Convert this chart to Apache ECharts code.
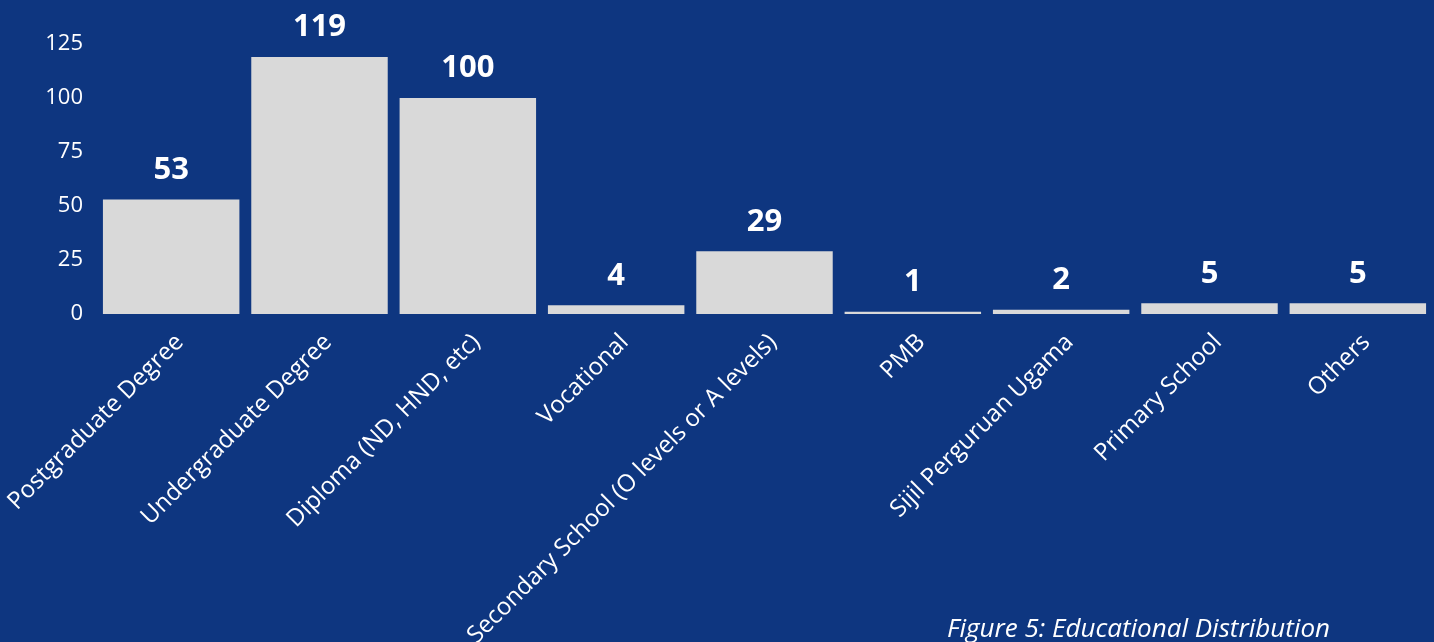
<!DOCTYPE html>
<html><head><meta charset="utf-8">
<script src="https://cdn.jsdelivr.net/npm/echarts@6/dist/echarts.min.js"></script>
<style>html,body{margin:0;padding:0;background:#0e3680;}#c{width:1434px;height:642px;}</style>
</head><body><div id="c"></div>
<script>
const categories = ["Postgraduate Degree","Undergraduate Degree","Diploma (ND, HND, etc)","Vocational","Secondary School (O levels or A levels)","PMB","Sijil Perguruan Ugama","Primary School","Others"];
const values = [53,119,100,4,29,1,2,5,5];
const yTicks = {min:0,max:125,interval:25};
const chart = echarts.init(document.getElementById('c'));
chart.setOption({
  backgroundColor:'#0e3680',
  textStyle:{fontFamily:'Open Sans'},
  title:{text:'Figure 5: Educational Distribution',right:99,bottom:-6,textStyle:{color:'#ffffff',fontStyle:'italic',fontWeight:'normal',fontSize:26,fontFamily:'Open Sans'}},
  grid:{left:97,right:2,top:44,bottom:328,containLabel:false,outerBoundsMode:'none'},
  xAxis:{type:'category',data:categories,axisLine:{show:false},axisTick:{show:false},
    axisLabel:{color:'#ffffff',fontSize:24,rotate:45,interval:0,margin:16,verticalAlign:'top',fontFamily:'Open Sans'}},
  yAxis:{type:'value',min:yTicks.min,max:yTicks.max,interval:yTicks.interval,splitLine:{show:false},axisLine:{show:false},axisTick:{show:false},
    axisLabel:{color:'#ffffff',fontSize:22,margin:14,fontFamily:'Open Sans'}},
  series:[{type:'bar',data:values,barCategoryGap:'8%',itemStyle:{color:'#d9d9d9'},
    label:{show:true,position:'top',distance:14,color:'#ffffff',fontSize:31,fontWeight:'bold',fontFamily:'Open Sans'}}]
});
</script></body></html>
